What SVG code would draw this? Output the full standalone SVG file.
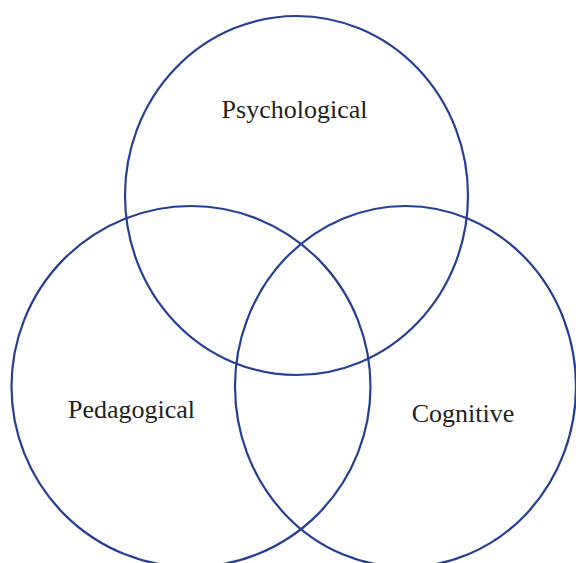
<svg xmlns="http://www.w3.org/2000/svg" width="576" height="563" viewBox="0 0 576 563">
<style>
.c{fill:none;stroke:#263f94;stroke-width:2.2}
.t{font-family:"Liberation Serif","Times New Roman",serif;font-size:26px;fill:#231f20;text-anchor:middle}
</style>
<rect width="576" height="563" fill="#fff"/>
<g id="psychological">
<ellipse class="c" cx="296.5" cy="195.5" rx="171.5" ry="179.5"/>
<text class="t" x="294.5" y="118">Psychological</text>
</g>
<g id="pedagogical">
<ellipse class="c" cx="191" cy="386.5" rx="179.5" ry="180.5"/>
<text class="t" x="131.5" y="418">Pedagogical</text>
</g>
<g id="cognitive">
<ellipse class="c" cx="405.5" cy="386.5" rx="170.5" ry="180.5"/>
<text class="t" x="463" y="421.5">Cognitive</text>
</g>
<g id="connectors"/>
</svg>
